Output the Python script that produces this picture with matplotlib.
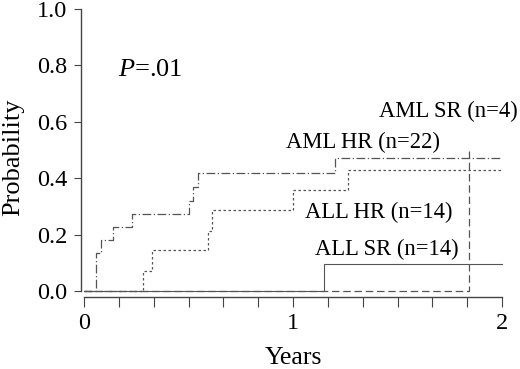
import matplotlib
matplotlib.use("Agg")
import matplotlib.pyplot as plt
import numpy as np

plt.rcParams["font.family"] = ["Liberation Serif", "DejaVu Serif"]
plt.rcParams["mathtext.fontset"] = "custom"
plt.rcParams["mathtext.it"] = "Liberation Serif:italic"
plt.rcParams["mathtext.rm"] = "Liberation Serif"

# step curves: event times (years) and cumulative probability after each step
aml_hr_t = [0, 0.057, 0.081, 0.14, 0.228, 0.50, 0.52, 0.547, 1.20, 2.0]
aml_hr_p = [0, 0.136, 0.182, 0.228, 0.274, 0.319, 0.369, 0.417, 0.471, 0.471]

all_hr_t = [0, 0.284, 0.324, 0.595, 0.614, 0.998, 1.265, 2.0]
all_hr_p = [0, 0.071, 0.144, 0.214, 0.287, 0.357, 0.430, 0.430]

aml_sr_t = [0, 1.842, 1.842]
aml_sr_p = [0, 0.0, 0.50]

all_sr_t = [0, 1.148, 2.0]
all_sr_p = [0, 0.097, 0.097]

labels = ["AML SR (n=4)", "AML HR (n=22)", "ALL HR (n=14)", "ALL SR (n=14)"]
label_xy = [(1.41, 0.635), (0.967, 0.525), (1.057, 0.28), (1.105, 0.147)]

yticks = [0, 0.2, 0.4, 0.6, 0.8, 1.0]
ytick_labels = ["0.0", "0.2", "0.4", "0.6", "0.8", "1.0"]

fig = plt.figure(figsize=(5.2, 3.69), dpi=100)
ax = fig.add_axes([84 / 520, 1 - 291 / 369, 418 / 520, 282 / 369])

col = "#555555"
ax.step(aml_hr_t, aml_hr_p, where="post", color=col, lw=0.9, ls=(0, (7, 2, 1, 2)), clip_on=False)
ax.step(all_hr_t, all_hr_p, where="post", color=col, lw=0.9, ls=(0, (2, 2)), clip_on=False)
ax.step(aml_sr_t, aml_sr_p, where="post", color=col, lw=0.9, ls=(0, (6, 3)), clip_on=False)
ax.step(all_sr_t, all_sr_p, where="post", color=col, lw=0.8, ls="-", clip_on=False)

for lab, (x, y) in zip(labels, label_xy):
    ax.text(x, y, lab, fontsize=16.3, ha="left", va="center")

ax.text(0.163, 0.785, r"$\mathit{P}$=.01", fontsize=19, ha="left", va="center")

ax.set_xlim(0, 2)
ax.set_ylim(0, 1)
ax.set_xticks([0, 1, 2])
ax.set_xticklabels(["0", "1", "2"])
ax.set_xticks(np.arange(0, 2.01, 1 / 6), minor=True)
ax.set_yticks(yticks)
ax.set_yticklabels(ytick_labels, va="center_baseline")
ax.tick_params(axis="both", which="both", labelsize=17.5, color="#444444", width=0.8)
ax.tick_params(axis="x", which="both", length=7, pad=5)
ax.tick_params(axis="y", which="major", length=5, pad=5)

for s in ["top", "right"]:
    ax.spines[s].set_visible(False)
ax.spines["left"].set_position(("outward", 2))
ax.spines["bottom"].set_position(("outward", 4))
ax.spines["left"].set_color("#444444")
ax.spines["bottom"].set_color("#444444")
ax.spines["left"].set_linewidth(1.0)
ax.spines["bottom"].set_linewidth(1.0)

ax.set_xlabel("Years", fontsize=18.5, labelpad=9)
ax.set_ylabel("Probability", fontsize=19)
ax.yaxis.set_label_coords(-0.143, 0.475)

fig.savefig("out.png", dpi=100)
